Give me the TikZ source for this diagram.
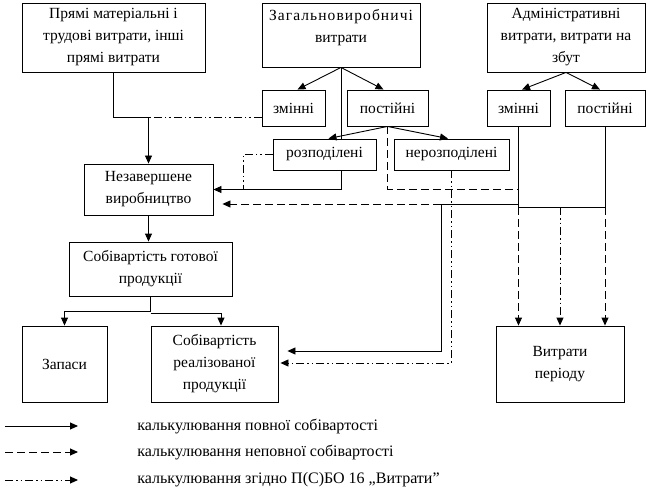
\documentclass[tikz,border=0pt]{standalone}
\usepackage{fontspec}
\setmainfont{Liberation Serif}
\usetikzlibrary{arrows.meta}

\begin{document}
\begin{tikzpicture}[x = 1pt, y = -1pt, line width = 0.9pt,
  txt/.style = {align = center, font = \fontsize{15.5}{22}\selectfont},
  box/.style = {txt, draw, inner sep = 0pt},
  legtxt/.style = {anchor = west, inner sep = 0pt, font = \fontsize{16}{18}\selectfont},
  arr/.style = {-{Triangle[length = 8pt, width = 7pt]}},
  dashline/.style = {dash pattern = on 8pt off 4pt},
  dashdotline/.style = {dash pattern = on 8pt off 3pt on 1.5pt off 3pt on 1.5pt off 3pt}]
\useasboundingbox (0, 0) rectangle (649, 495);
%\draw[very thin, color = gray](0, 0) grid[step = 50] (649, 495);
\node (pr) [box, minimum width = 183, minimum height = 69] at (113.5, 37.5) {Прямі матеріальні і\\трудові витрати, інші\\прямі витрати};
\node (zv) [box, minimum width = 158, minimum height = 64] at (341, 35) {};
\node (zvt) [txt] at (341, 28) {{\addfontfeatures{LetterSpace = 7}Загальновиробничі}\\витрати};
\node (adm) [box, minimum width = 158, minimum height = 69] at (566, 37.5) {Адміністративні\\витрати, витрати на\\збут};
\node (zm1) [box, minimum width = 63, minimum height = 36] at (293.5, 108) {змінні};
\node (pos1) [box, minimum width = 81, minimum height = 36] at (387.5, 108) {постійні};
\node (zm2) [box, minimum width = 63, minimum height = 36] at (518.5, 108) {змінні};
\node (pos2) [box, minimum width = 80, minimum height = 36] at (605, 108) {постійні};
\node (rozp) [box, minimum width = 103, minimum height = 31] at (324.5, 154.5) {розподілені};
\node (nerozp) [box, minimum width = 115, minimum height = 31] at (451.5, 154.5) {нерозподілені};
\node (nzv) [box, minimum width = 129, minimum height = 51] at (148.5, 189.5) {Незавершене\\виробництво};
\node (sgp) [box, minimum width = 163, minimum height = 54] at (150.5, 269) {Собівартість готової\\продукції};
\node (zap) [box, minimum width = 85, minimum height = 76] at (64.5, 364) {Запаси};
\node (srp) [box, minimum width = 127, minimum height = 76] at (214.5, 364) {Собівартість\\реалізованої\\продукції};
\node (vp) [box, minimum width = 128, minimum height = 76] at (560, 364) {Витрати\\періоду};
%\node at (560, 364) {};

% прямі витрати
\coordinate (j1) at (148.5, 117);
\draw (pr.south) |- (j1);
\draw [arr] (j1) -- (nzv.north);
\draw [dashdotline] (zm1.west |- j1) -- (j1);

% загальновиробничі
\draw [arr] (zv.south) -- ([xshift = 4]zm1.north);
\draw [arr] (zv.south) -- ([xshift = -4]pos1.north);
\draw (zv.south) -- (zv.south |- rozp.north);
\draw [arr] (pos1.south) -- ([xshift = 4]rozp.north);
\draw [arr] (pos1.south) -- ([xshift = -3.5]nerozp.north);
\coordinate (j2) at (243, 189.5);
\draw [arr] (zv.south |- rozp.south) |- (nzv.east);
\draw [dashdotline] (rozp.west) -| (j2);
\coordinate (j3) at (518.5, 189);
\draw [dashline] (pos1.south) |- (j3);

% адміністративні
\draw [arr] (adm.south) -- ([xshift = 3.5]zm2.north);
\draw [arr] (adm.south) -- ([xshift = -5]pos2.north);
\coordinate (j4) at (518.5, 207);
\coordinate (j5) at (605, 207);
\draw (zm2.south) -- (j4) -- (j5) -- (pos2.south);
\draw [dashline, arr] (j4) -- (vp.north -| j4);
\draw [dashdotline, arr] (vp.north |- j4) -- (vp.north);
\draw [dashline, arr] (j5) -- (vp.north -| j5);
\coordinate (j6) at (441, 204);
\draw [arr] (zm2.south |- j6) -- (j6) |- ([xshift = 9, yshift = 13]srp.east);
\draw [dashline, arr] (j6) -- ([xshift = 9, yshift = -14.5]nzv.east);
\draw [dashdotline, arr] (nerozp.south) |- ([xshift = 2, yshift = 1]srp.east);

% готова продукція
\draw [arr] (nzv.south) -- (nzv.south |- sgp.north);
\draw [arr] (sgp.south) -- ++(0, 15) -| (zap.north);
\draw [arr] ([yshift = -17]sgp.south) -| ([xshift = 6.5]srp.north);

% легенда
\node (t1) [legtxt] at (137, 426) {калькулювання повної собівартості};
\node (t2) [legtxt] at (137, 452) {калькулювання неповної собівартості};
\node (t3) [legtxt] at (137, 480) {калькулювання згідно П(С)БО 16 „Витрати”};
\draw [arr] ([xshift = -132]t1.west) -- ([xshift = -59]t1.west);
\draw [dashline, arr] ([xshift = -132]t2.west) -- ([xshift = -59]t2.west);
\draw [dashdotline, arr] ([xshift = -132]t3.west) -- ([xshift = -59]t3.west);
\end{tikzpicture}
\end{document}
